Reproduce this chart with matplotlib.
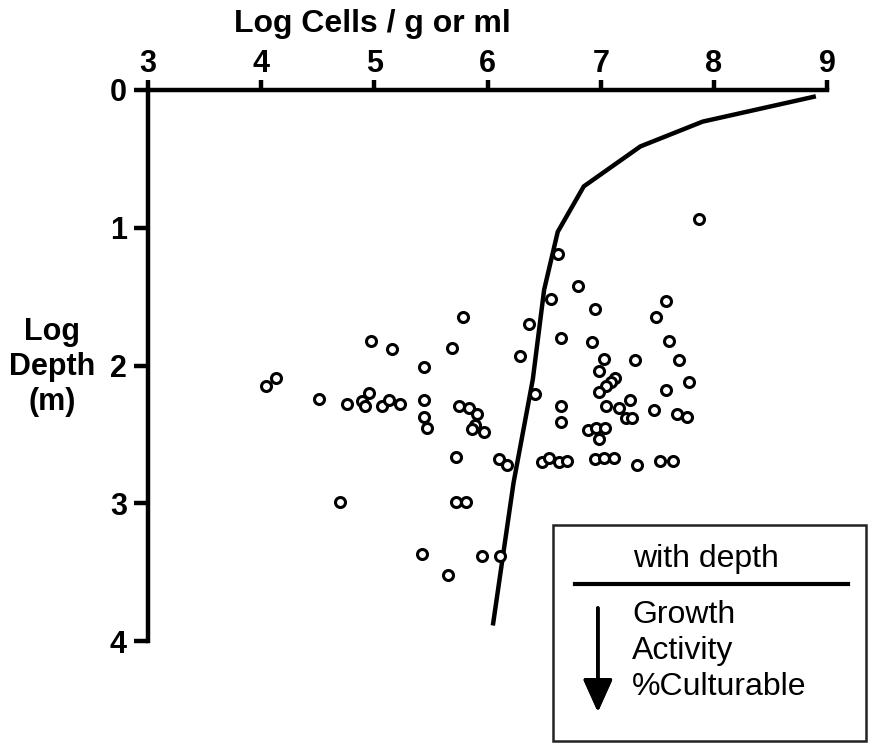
import matplotlib
matplotlib.use('Agg')
import matplotlib.pyplot as plt
from matplotlib.patches import Rectangle
from matplotlib.lines import Line2D

plt.rcParams['font.family'] = ['Liberation Sans', 'DejaVu Sans']

# total cell counts with depth (the curve)
curve_cells = [8.88, 7.90, 7.35, 6.85, 6.62, 6.50, 6.40, 6.23, 6.05]
curve_depth = [0.05, 0.23, 0.41, 0.70, 1.03, 1.45, 2.10, 2.85, 3.87]

# individual samples (open circles)
sample_cells = [5.78, 6.37, 4.97, 5.16, 5.69, 6.29, 5.44, 4.13, 4.04, 4.51,
                4.76, 4.89, 4.95, 4.92, 5.07, 5.13, 5.23, 5.44, 6.42, 5.75,
                5.84, 5.91, 5.44, 5.47, 5.89, 5.86, 5.97, 5.72, 6.10, 6.17,
                6.48, 6.54, 6.63, 6.70, 6.95, 7.03, 7.12, 7.32, 7.52, 7.64,
                7.87, 6.62, 6.80, 6.56, 6.95, 7.58, 7.49, 6.65, 6.92, 7.60,
                7.03, 7.30, 7.69, 6.98, 7.13, 7.09, 7.05, 6.98, 7.78, 7.58,
                7.26, 6.65, 7.05, 7.16, 7.22, 7.28, 7.47, 7.67, 7.76, 6.65,
                6.89, 6.96, 7.04, 6.98, 4.70, 5.72, 5.81, 5.42, 5.95, 6.11,
                5.65]
sample_depth = [1.65, 1.70, 1.82, 1.88, 1.87, 1.93, 2.01, 2.09, 2.15, 2.24,
                2.28, 2.26, 2.20, 2.29, 2.29, 2.25, 2.28, 2.25, 2.21, 2.29,
                2.31, 2.35, 2.37, 2.45, 2.43, 2.46, 2.48, 2.66, 2.68, 2.72,
                2.70, 2.67, 2.70, 2.69, 2.68, 2.67, 2.67, 2.72, 2.69, 2.69,
                0.94, 1.19, 1.42, 1.52, 1.59, 1.53, 1.65, 1.80, 1.83, 1.82,
                1.95, 1.96, 1.96, 2.04, 2.09, 2.12, 2.15, 2.19, 2.12, 2.18,
                2.25, 2.29, 2.29, 2.31, 2.38, 2.38, 2.32, 2.35, 2.37, 2.41,
                2.47, 2.45, 2.45, 2.53, 2.99, 2.99, 2.99, 3.37, 3.38, 3.38,
                3.52]

x_ticks = [3, 4, 5, 6, 7, 8, 9]
y_ticks = [0, 1, 2, 3, 4]
legend_lines = ['Growth', 'Activity', '%Culturable']

fig = plt.figure(figsize=(8.69, 7.43), dpi=100)
ax = fig.add_axes([0.170, 0.137, 0.782, 0.742])

ax.plot(curve_cells, curve_depth, color='black', lw=3.2, solid_joinstyle='round', zorder=3)
ax.plot(sample_cells, sample_depth, 'o', ms=7.2, mfc='white', mec='black', mew=2.2,
        linestyle='none', zorder=4)

ax.set_xlim(3, 9)
ax.set_ylim(4, 0)
ax.set_xticks(x_ticks)
ax.set_yticks(y_ticks)
ax.xaxis.tick_top()
for s in ['right', 'bottom']:
    ax.spines[s].set_visible(False)
for s in ['top', 'left']:
    ax.spines[s].set_linewidth(3.2)
ax.tick_params(axis='x', direction='out', length=7.5, width=3.2, pad=0.5,
               labelsize=22)
ax.tick_params(axis='y', direction='out', length=10, width=3.2, pad=5,
               labelsize=22)
for lab in ax.get_xticklabels() + ax.get_yticklabels():
    lab.set_fontweight('bold')

fig.text(0.428, 0.957, 'Log Cells / g or ml', ha='center', va='baseline',
         fontsize=23, fontweight='bold')
fig.text(0.06, 0.506, 'Log\nDepth\n(m)', ha='center', va='center',
         fontsize=22, fontweight='bold', linespacing=1.2)

# legend-like note box
fig.patches.append(Rectangle((0.636, 0.003), 0.3605, 0.2905, transform=fig.transFigure,
                             fill=False, edgecolor='#222222', lw=1.8))
fig.text(0.8124, 0.2369, 'with depth', ha='center', va='baseline', fontsize=23)
fig.lines.append(Line2D([0.6617, 0.9758], [0.214, 0.214], transform=fig.transFigure,
                        color='black', lw=3))
for i, t in enumerate(legend_lines):
    fig.text(0.7273, 0.1615 - i * 0.0485, t, ha='left', va='baseline', fontsize=23)
fig.add_artist(plt.annotate('', xy=(0.688, 0.0417), xytext=(0.688, 0.1817),
                            xycoords='figure fraction', textcoords='figure fraction',
                            arrowprops=dict(arrowstyle='-|>,head_width=0.45,head_length=1.0',
                                            mutation_scale=20, color='black', lw=2.6,
                                            shrinkA=0, shrinkB=0)))

fig.savefig('out.png', dpi=100)
